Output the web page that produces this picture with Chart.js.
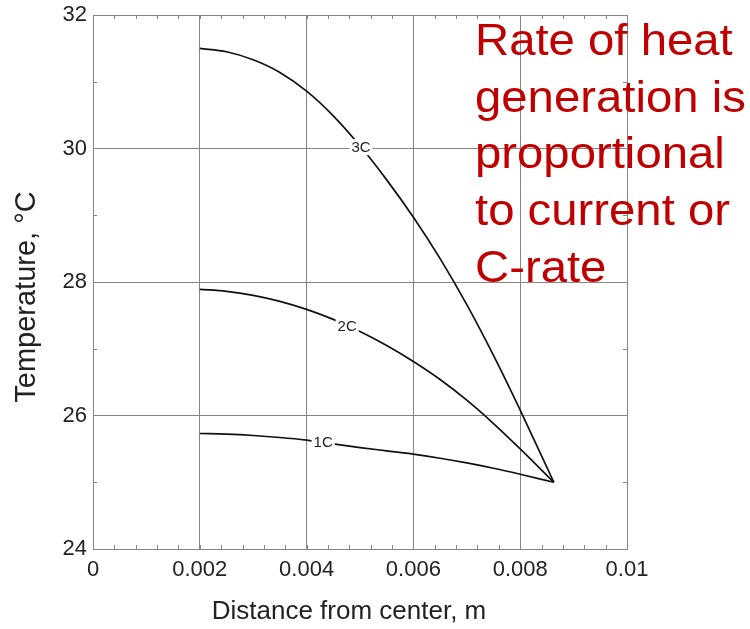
<!DOCTYPE html>
<html>
<head>
<meta charset="utf-8">
<script src="https://cdn.jsdelivr.net/npm/chart.js@4"></script>
<style>
  html, body { margin: 0; padding: 0; background: #fff; }
</style>
</head>
<body>
<canvas id="chart" width="750" height="629"></canvas>
<script>
// Radial temperature profile in a cell at 1C / 2C / 3C discharge.

const X_TICKS = [0, 0.002, 0.004, 0.006, 0.008, 0.01];
const Y_TICKS = [24, 26, 28, 30, 32];

const r3C = [0.002, 0.0025, 0.003, 0.0035, 0.004, 0.0045, 0.005, 0.0055, 0.006, 0.0065, 0.007, 0.0075, 0.008, 0.00863];
const t3C = [31.50, 31.45, 31.33, 31.14, 30.86, 30.49, 30.04, 29.53, 28.97, 28.35, 27.66, 26.90, 26.08, 25.00];

const r2C = [0.002, 0.0025, 0.003, 0.0035, 0.004, 0.0045, 0.005, 0.0055, 0.006, 0.0065, 0.007, 0.0075, 0.008, 0.00863];
const t2C = [27.89, 27.86, 27.80, 27.71, 27.59, 27.44, 27.26, 27.05, 26.81, 26.54, 26.23, 25.88, 25.50, 25.00];

const r1C = [0.002, 0.0025, 0.003, 0.0035, 0.004, 0.0045, 0.005, 0.0055, 0.006, 0.0065, 0.007, 0.0075, 0.008, 0.00863];
const t1C = [25.73, 25.72, 25.70, 25.67, 25.63, 25.575, 25.52, 25.47, 25.42, 25.36, 25.29, 25.21, 25.12, 25.00];

// curve labels (in data units)
const curveNames = ["3C", "2C", "1C"];
const labelR = [0.00502, 0.00476, 0.00431];
const labelT = [30.02, 27.34, 25.60];

const noteLines = ["Rate of heat", "generation is", "proportional", "to current or", "C-rate"];
const xTitle = "Distance from center, m";
const yTitle = "Temperature, °C";

const FONT = "Arial, 'Liberation Sans', sans-serif";

function toPoints(xs, ys) {
  return xs.map(function (x, i) { return { x: x, y: ys[i] }; });
}

function fmtX(v) {
  return String(parseFloat(v.toFixed(4)));
}

// box + little inside ticks, matlab-ish
const frameTicks = {
  id: "frameTicks",
  afterDatasetsDraw: function (chart) {
    const ctx = chart.ctx;
    const a = chart.chartArea;
    const xs = chart.scales.x, ys = chart.scales.y;
    ctx.save();
    ctx.strokeStyle = "#858585";
    ctx.lineWidth = 1;
    ctx.beginPath();
    for (let v = 0.0004; v < 0.01; v += 0.0004) {
      const px = Math.round(xs.getPixelForValue(v)) + 0.5;
      ctx.moveTo(px, a.bottom); ctx.lineTo(px, a.bottom - 4);
      ctx.moveTo(px, a.top); ctx.lineTo(px, a.top + 4);
    }
    for (let v = 25; v < 32; v += 2) {
      const py = Math.round(ys.getPixelForValue(v)) + 0.5;
      ctx.moveTo(a.left, py); ctx.lineTo(a.left + 4, py);
      ctx.moveTo(a.right, py); ctx.lineTo(a.right - 4, py);
    }
    ctx.stroke();
    ctx.strokeRect(Math.round(a.left) + 0.5, Math.round(a.top) + 0.5,
                   Math.round(a.right - a.left), Math.round(a.bottom - a.top));

    // curve labels with white knock-out
    ctx.font = "15px " + FONT;
    ctx.textAlign = "center";
    ctx.textBaseline = "middle";
    curveNames.forEach(function (name, i) {
      const px = xs.getPixelForValue(labelR[i]);
      const py = ys.getPixelForValue(labelT[i]);
      const w = ctx.measureText(name).width;
      ctx.fillStyle = "#fff";
      ctx.fillRect(px - w / 2 - 2, py - 8, w + 4, 16);
      ctx.fillStyle = "#222";
      ctx.fillText(name, px, py + 1);
    });
    ctx.restore();
  },
  afterDraw: function (chart) {
    const ctx = chart.ctx;
    const a = chart.chartArea;

    // axis titles
    ctx.save();
    ctx.fillStyle = "#222";
    ctx.textAlign = "center";
    ctx.textBaseline = "alphabetic";
    ctx.font = "26px " + FONT;
    ctx.fillText(xTitle, a.left + 256, 619);
    ctx.translate(35, a.top + 282);
    ctx.rotate(-Math.PI / 2);
    ctx.font = "29px " + FONT;
    ctx.fillText(yTitle, 0, 0);
    ctx.restore();

    // red note, slightly wide like the original slide text
    ctx.save();
    ctx.font = "44px " + FONT;
    ctx.fillStyle = "#c00000";
    ctx.textAlign = "left";
    ctx.textBaseline = "alphabetic";
    ctx.translate(475, 0);
    ctx.scale(1.075, 1);
    noteLines.forEach(function (line, i) {
      ctx.fillText(line, 0, 55 + i * 56.7);
    });
    ctx.restore();
  }
};

const lineStyle = {
  borderColor: "#111",
  borderWidth: 1.7,
  pointRadius: 0,
  fill: false,
  cubicInterpolationMode: "monotone"
};

new Chart(document.getElementById("chart"), {
  type: "line",
  data: {
    datasets: [
      Object.assign({ label: "3C", data: toPoints(r3C, t3C) }, lineStyle),
      Object.assign({ label: "2C", data: toPoints(r2C, t2C) }, lineStyle),
      Object.assign({ label: "1C", data: toPoints(r1C, t1C) }, lineStyle)
    ]
  },
  options: {
    responsive: false,
    animation: false,
    layout: { padding: { top: 15, right: 123, left: 0, bottom: 0 } },
    plugins: { legend: { display: false }, tooltip: { enabled: false } },
    scales: {
      x: {
        type: "linear",
        min: 0, max: 0.01,
        afterBuildTicks: function (s) { s.ticks = X_TICKS.map(function (v) { return { value: v }; }); },
        afterFit: function (s) { s.height = 80; s.paddingLeft = 0; s.paddingRight = 0; },
        ticks: {
          callback: function (v) { return fmtX(v); },
          font: { family: FONT, size: 22 }, color: "#222", padding: 8, maxRotation: 0
        },
        grid: { color: "#858585", lineWidth: 1, drawTicks: false },
        border: { display: false }
      },
      y: {
        type: "linear",
        min: 24, max: 32,
        afterBuildTicks: function (s) { s.ticks = Y_TICKS.map(function (v) { return { value: v }; }); },
        afterFit: function (s) { s.width = 93; s.paddingTop = 0; s.paddingBottom = 0; },
        ticks: {
          font: { family: FONT, size: 22 }, color: "#222", padding: 6
        },
        grid: { color: "#858585", lineWidth: 1, drawTicks: false },
        border: { display: false }
      }
    }
  },
  plugins: [frameTicks]
});
</script>
</body>
</html>
